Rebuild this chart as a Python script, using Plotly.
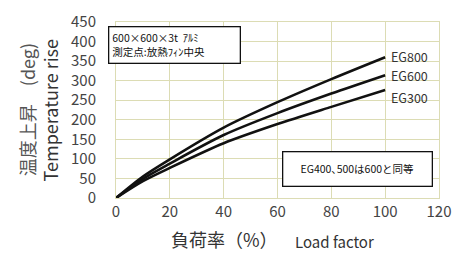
import plotly.graph_objects as go

load = [0, 10, 20, 40, 60, 80, 100]
eg800 = [0, 55, 99, 180, 245, 304, 360]
eg600 = [0, 49, 88, 161, 217, 267, 314]
eg300 = [0, 43, 77, 140, 189, 233, 276]
series = [("EG800", eg800), ("EG600", eg600), ("EG300", eg300)]
label_y = [361, 314, 258]

x_ticks = [0, 20, 40, 60, 80, 100, 120]
y_ticks = [0, 50, 100, 150, 200, 250, 300, 350, 400, 450]

FONT = "Noto Sans CJK JP"
GRID = "#dcdcb4"

fig = go.Figure()
for name, vals in series:
    fig.add_trace(go.Scatter(x=load, y=vals, mode="lines", name=name,
                             line=dict(color="#111111", width=2.6, shape="spline", smoothing=0.8),
                             showlegend=False, hoverinfo="skip"))

for (name, vals), ly in zip(series, label_y):
    fig.add_annotation(x=101.5, y=ly, text=name, showarrow=False, xanchor="left", yanchor="middle",
                       font=dict(family=FONT, size=12.5, color="#333333"))

fig.add_annotation(x=-0.0247, y=0.979, xref="paper", yref="paper", xanchor="left", yanchor="top",
                   showarrow=False, align="left", width=124, height=29,
                   text="600×600×3t  ｱﾙﾐ<br>測定点:放熱ﾌｨﾝ中央",
                   font=dict(family=FONT, size=10.5, color="#111111"),
                   bordercolor="#111111", borderwidth=1.3, borderpad=3, bgcolor="white")

fig.add_annotation(x=0.515, y=0.269, xref="paper", yref="paper", xanchor="left", yanchor="top",
                   showarrow=False, width=140, height=25,
                   text="EG400､500は600と同等",
                   font=dict(family=FONT, size=10.5, color="#111111"),
                   bordercolor="#111111", borderwidth=1.3, borderpad=4, bgcolor="white")

# Axis titles
fig.add_annotation(x=-0.275, y=0.5, xref="paper", yref="paper", showarrow=False, textangle=-90,
                   xanchor="center", yanchor="middle",
                   text="温度上昇　(deg)", font=dict(family=FONT, size=18, color="#555555"))
fig.add_annotation(x=-0.203, y=0.5, xref="paper", yref="paper", showarrow=False, textangle=-90,
                   xanchor="center", yanchor="middle",
                   text="Temperature rise", font=dict(family=FONT, size=18, color="#333333"))
fig.add_annotation(x=0.335, y=-0.235, xref="paper", yref="paper", showarrow=False,
                   xanchor="center", yanchor="middle",
                   text="負荷率（%）", font=dict(family=FONT, size=18, color="#333333"))
fig.add_annotation(x=0.675, y=-0.245, xref="paper", yref="paper", showarrow=False,
                   xanchor="center", yanchor="middle",
                   text="Load factor", font=dict(family=FONT, size=15, color="#333333"))

fig.update_layout(
    width=461, height=254,
    margin=dict(l=116, r=21, t=10, b=56),
    paper_bgcolor="white", plot_bgcolor="white",
    font=dict(family=FONT, color="#444444"),
)
fig.update_xaxes(range=[0, 120.01], tickvals=x_ticks, showgrid=True, gridcolor=GRID, gridwidth=1,
                 showline=True, linecolor=GRID, mirror=True, zeroline=False,
                 tickfont=dict(family=FONT, size=15, color="#444444"), ticks="", ticklen=0,
                 ticklabeloverflow="allow")
fig.update_yaxes(range=[0, 450.01], tickvals=y_ticks, showgrid=True, gridcolor=GRID, gridwidth=1,
                 showline=True, linecolor=GRID, mirror=True, zeroline=False,
                 tickfont=dict(family=FONT, size=15, color="#444444"), ticks="outside",
                 ticklen=16, tickcolor="rgba(0,0,0,0)", ticklabeloverflow="allow")

fig.write_html("out.html", config={"displayModeBar": False},
               post_script="document.body.style.margin='0';")
